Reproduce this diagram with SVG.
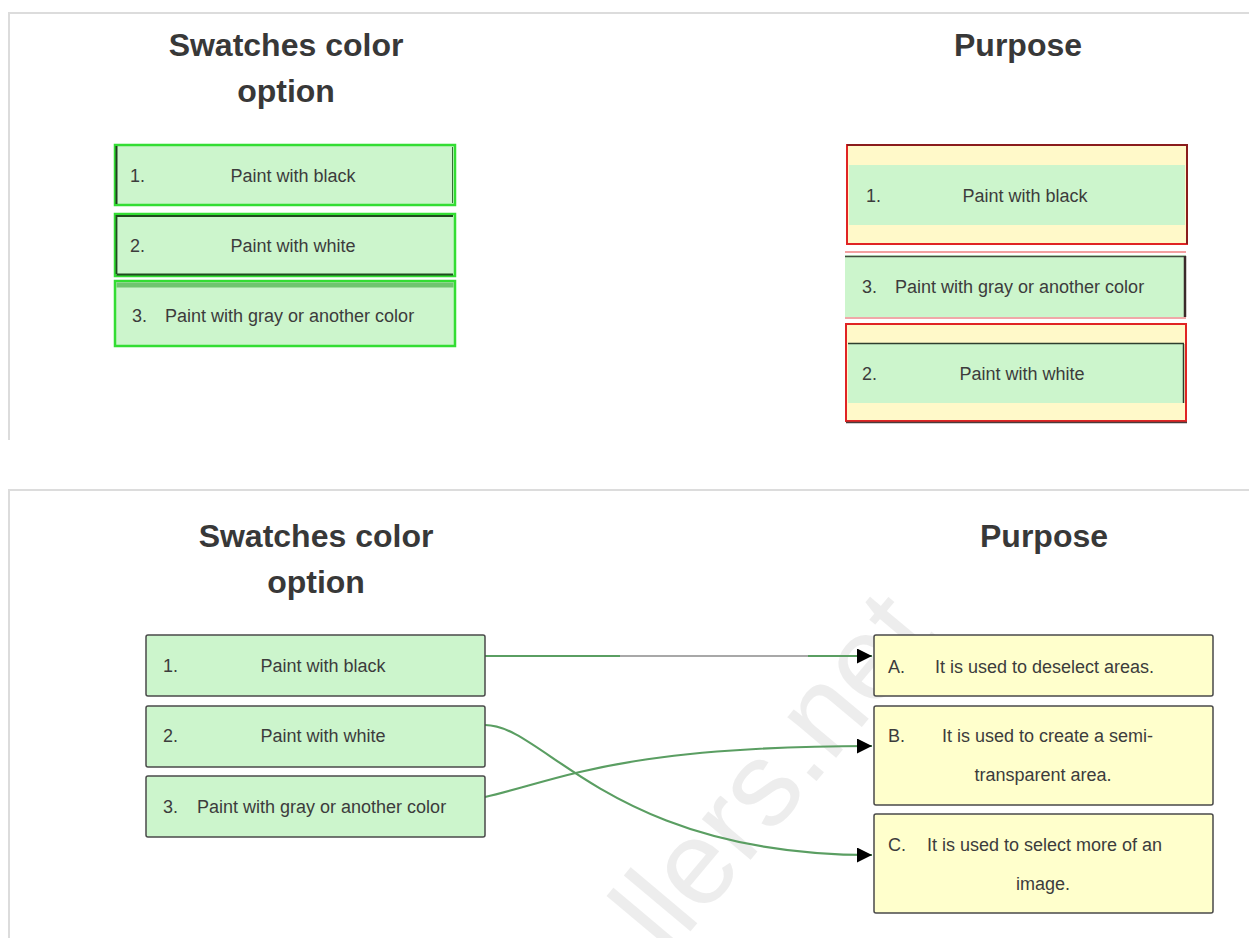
<svg xmlns="http://www.w3.org/2000/svg" width="1249" height="938" viewBox="0 0 1249 938">
<style>
.title{font-family:"Liberation Sans",Arial,sans-serif;font-weight:bold;font-size:32px;fill:#383838;text-anchor:middle}
.t{font-family:"Liberation Sans",Arial,sans-serif;font-size:18px;fill:#3c3c3c}
.m{text-anchor:middle}
.panel{stroke:#dcdcdc;stroke-width:2;fill:none}
.g{fill:#ccf5cc}
.y{fill:#fff9c9}
.bl{fill:#ccf5cc;stroke:#4a4a4a;stroke-width:1.5}
.br{fill:#ffffcc;stroke:#4a4a4a;stroke-width:1.5}
.conn{fill:none;stroke:#5a9e62;stroke-width:2.2}
.wm{font-family:"Liberation Sans",Arial,sans-serif;font-size:120px;fill:#e2e2e2;opacity:0.6}
</style>
<defs>
<marker id="arr" markerUnits="userSpaceOnUse" markerWidth="16" markerHeight="15" refX="15" refY="7.5" orient="auto">
<path d="M0,0 L15,7.5 L0,15 z" fill="#000"/>
</marker>
<linearGradient id="fade" gradientUnits="userSpaceOnUse" x1="485" y1="0" x2="872" y2="0">
<stop offset="0" stop-color="#5a9e62"/>
<stop offset="0.35" stop-color="#5a9e62"/>
<stop offset="0.35" stop-color="#a8a8a8"/>
<stop offset="0.835" stop-color="#a8a8a8"/>
<stop offset="0.835" stop-color="#5a9e62"/>
<stop offset="1" stop-color="#5a9e62"/>
</linearGradient>
</defs>
<rect width="1249" height="938" fill="#ffffff"/>

<g id="panels">
<path class="panel" d="M9,440 V13 H1249"/>
<path class="panel" d="M9,938 V490 H1249"/>
</g>

<g id="top-titles">
<text class="title" x="286" y="56">Swatches color</text>
<text class="title" x="286" y="102">option</text>
<text class="title" x="1018" y="56">Purpose</text>
</g>

<g id="top-left-1">
<rect class="g" x="115" y="145" width="340" height="60" stroke="#33dd33" stroke-width="2.5"/>
<line x1="116.5" y1="146" x2="116.5" y2="204" stroke="#1e3e1e" stroke-width="2"/>
<line x1="452.5" y1="147" x2="452.5" y2="203" stroke="#3a6a3a" stroke-width="1"/>
<text class="t" x="130" y="182">1.</text>
<text class="t m" x="293" y="182">Paint with black</text>
</g>
<g id="top-left-2">
<rect class="g" x="115" y="214" width="340" height="62" stroke="#33dd33" stroke-width="2.5"/>
<path d="M116.5,274 V216 H453 M116.5,274.5 H453" fill="none" stroke="#1e4a1e" stroke-width="1.8"/>
<text class="t" x="130" y="252">2.</text>
<text class="t m" x="293" y="252">Paint with white</text>
</g>
<g id="top-left-3">
<rect class="g" x="115" y="281" width="340" height="65" stroke="#33dd33" stroke-width="2.5"/>
<rect x="116.5" y="282.5" width="337" height="5" fill="#6fc46f"/>
<text class="t" x="132" y="322">3.</text>
<text class="t" x="165" y="322">Paint with gray or another color</text>
</g>

<g id="top-right-1">
<rect class="y" x="847" y="145" width="340" height="99" stroke="#e02424" stroke-width="2"/>
<path d="M847,145 H1187 V244" fill="none" stroke="#8a1c1c" stroke-width="2"/>
<rect class="g" x="849" y="165" width="336" height="60"/>
<text class="t" x="866" y="202">1.</text>
<text class="t m" x="1025" y="202">Paint with black</text>
</g>
<g id="top-right-3">
<rect class="g" x="845" y="255" width="341" height="62"/>
<line x1="845" y1="252" x2="1186" y2="252" stroke="#f2a0a0" stroke-width="2"/>
<line x1="845" y1="256.5" x2="1186" y2="256.5" stroke="#3e4e3e" stroke-width="1.5"/>
<line x1="1185" y1="256" x2="1185" y2="317" stroke="#3a2a2a" stroke-width="2.5"/>
<line x1="845" y1="318" x2="1186" y2="318" stroke="#f0a8a8" stroke-width="2"/>
<text class="t" x="862" y="293">3.</text>
<text class="t" x="895" y="293">Paint with gray or another color</text>
</g>
<g id="top-right-2">
<rect class="y" x="846" y="324" width="340" height="97" stroke="#e02424" stroke-width="2"/>
<rect class="g" x="848" y="343" width="336" height="60"/>
<line x1="848" y1="343.5" x2="1184" y2="343.5" stroke="#2e3e2e" stroke-width="1.5"/>
<line x1="1183.5" y1="344" x2="1183.5" y2="403" stroke="#2e3e2e" stroke-width="1.5"/>
<line x1="846" y1="422.5" x2="1187" y2="422.5" stroke="#4a3a3a" stroke-width="1.5"/>
<text class="t" x="862" y="380">2.</text>
<text class="t m" x="1022" y="380">Paint with white</text>
</g>

<g id="bottom-titles">
<text class="title" x="316" y="547">Swatches color</text>
<text class="title" x="316" y="593">option</text>
<text class="title" x="1044" y="547">Purpose</text>
</g>

<g id="watermark">
<text class="wm" transform="translate(668,958) rotate(-50)">llers.net</text>
</g>

<g id="connectors">
<path class="conn" d="M485,656 H872" style="stroke:url(#fade)" marker-end="url(#arr)"/>
<path class="conn" d="M485,725 C545,725 610,855 872,855" marker-end="url(#arr)"/>
<path class="conn" d="M485,797 C560,780 620,746 872,746" marker-end="url(#arr)"/>
</g>

<g id="bl-1">
<rect class="bl" x="146" y="635" width="339" height="61" rx="2"/>
<text class="t" x="163" y="672">1.</text>
<text class="t m" x="323" y="672">Paint with black</text>
</g>
<g id="bl-2">
<rect class="bl" x="146" y="706" width="339" height="61" rx="2"/>
<text class="t" x="163" y="742">2.</text>
<text class="t m" x="323" y="742">Paint with white</text>
</g>
<g id="bl-3">
<rect class="bl" x="146" y="776" width="339" height="61" rx="2"/>
<text class="t" x="163" y="813">3.</text>
<text class="t" x="197" y="813">Paint with gray or another color</text>
</g>

<g id="br-A">
<rect class="br" x="874" y="635" width="339" height="61" rx="2"/>
<text class="t" x="888" y="673">A.</text>
<text class="t" x="935" y="673">It is used to deselect areas.</text>
</g>
<g id="br-B">
<rect class="br" x="874" y="706" width="339" height="99" rx="2"/>
<text class="t" x="888" y="742">B.</text>
<text class="t" x="942" y="742">It is used to create a semi-</text>
<text class="t m" x="1043" y="781">transparent area.</text>
</g>
<g id="br-C">
<rect class="br" x="874" y="814" width="339" height="99" rx="2"/>
<text class="t" x="888" y="851">C.</text>
<text class="t" x="927" y="851">It is used to select more of an</text>
<text class="t m" x="1043" y="890">image.</text>
</g>
</svg>
